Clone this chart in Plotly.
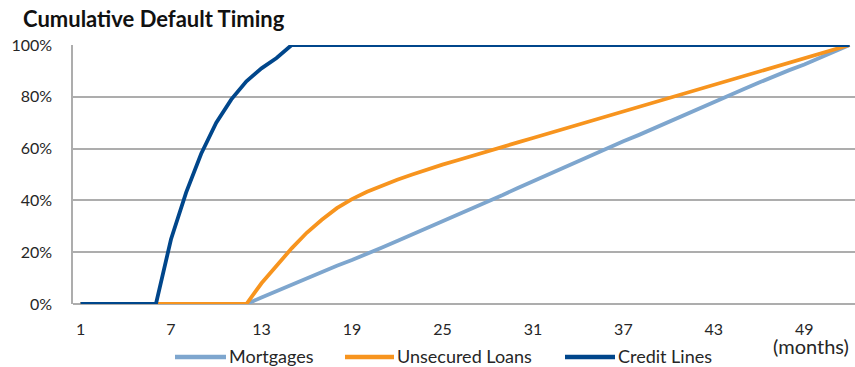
import plotly.graph_objects as go

# Months since origination (x categories)
months = list(range(1, 53))

# Cumulative share of defaults (%) by month
mortgages = [0, 0, 0, 0, 0, 0, 0, 0, 0, 0, 0, 0,
             2.5, 5, 7.5, 10, 12.5, 14.8, 17, 19.3, 21.8, 24.3,
             26.8, 29.3, 31.9, 34.4, 37, 39.6, 42.1, 44.8, 47.4, 50,
             52.7, 55.3, 57.8, 60.3, 62.8, 65.2, 67.8, 70.4, 73, 75.5,
             78, 80.5, 83, 85.5, 88, 90.3, 92.5, 95, 97.5, 100]

unsecured_loans = [0, 0, 0, 0, 0, 0, 0, 0, 0, 0, 0, 0,
                   8, 15, 21.5, 27.5, 32.5, 37, 40.5, 43.3, 45.8, 48,
                   50, 52, 53.8, 55.5, 57.3, 59, 60.7, 62.4, 64.1, 65.8,
                   67.5, 69.2, 70.9, 72.6, 74.4, 76.2, 78, 79.7, 81.4, 83.1,
                   84.8, 86.5, 88.2, 89.9, 91.6, 93.3, 95, 96.6, 98.3, 100]

credit_lines = [0, 0, 0, 0, 0, 0,
                25, 43, 58, 70, 79, 86, 91, 95,
                100, 100, 100, 100, 100, 100, 100, 100, 100, 100,
                100, 100, 100, 100, 100, 100, 100, 100, 100, 100,
                100, 100, 100, 100, 100, 100, 100, 100, 100, 100,
                100, 100, 100, 100, 100, 100, 100, 100]

x_ticks = [1, 7, 13, 19, 25, 31, 37, 43, 49]
y_ticks = [0, 20, 40, 60, 80, 100]
y_tick_labels = ["0%", "20%", "40%", "60%", "80%", "100%"]

series_names = ["Mortgages", "Unsecured Loans", "Credit Lines"]
series_values = [mortgages, unsecured_loans, credit_lines]
series_colors = ["#7EA6CE", "#F7941E", "#00468B"]

FONT = "Lato"
TEXT = "#262626"
GRID = "#ADADAD"

W, H = 855, 367
M_L, M_R, M_T, M_B = 73, 0, 45, 63
PLOT_W = W - M_L - M_R
PLOT_H = H - M_T - M_B


def px_to_paper_x(px):
    return (px - M_L) / PLOT_W


def px_to_paper_y(py):
    return (H - M_B - py) / PLOT_H


fig = go.Figure()
for name, values, color in zip(series_names, series_values, series_colors):
    fig.add_trace(go.Scatter(
        x=months, y=values, name=name, mode="lines",
        line=dict(color=color, width=3.8),
        cliponaxis=False, showlegend=False,
    ))

# Legend row below the axis: a line swatch followed by the series name
legend_swatch_px = [(175, 226), (345, 394), (565, 615)]
swatch_y = px_to_paper_y(357)
label_y = px_to_paper_y(355.5)
shapes = []
annotations = []
for (x0, x1), name, color in zip(legend_swatch_px, series_names, series_colors):
    shapes.append(dict(
        type="line", xref="paper", yref="paper",
        x0=px_to_paper_x(x0), x1=px_to_paper_x(x1),
        y0=swatch_y, y1=swatch_y,
        line=dict(color=color, width=4.5),
    ))
    annotations.append(dict(
        text=name, xref="paper", yref="paper",
        x=px_to_paper_x(x1 + 2), y=label_y,
        xanchor="left", yanchor="middle", showarrow=False,
        borderpad=0,
        font=dict(family=FONT, size=18, color=TEXT),
    ))

annotations.append(dict(
    text="<b>Cumulative Default Timing</b>",
    xref="paper", yref="paper", x=px_to_paper_x(21), y=px_to_paper_y(19),
    xanchor="left", yanchor="middle", showarrow=False,
    font=dict(family=FONT, size=22, color="#111111"),
))
annotations.append(dict(
    text="(months)",
    xref="paper", yref="paper", x=px_to_paper_x(811), y=px_to_paper_y(346),
    xanchor="center", yanchor="middle", showarrow=False,
    borderpad=0,
    font=dict(family=FONT, size=20, color=TEXT),
))

fig.update_layout(
    width=W, height=H,
    margin=dict(l=M_L, r=M_R, t=M_T, b=M_B, autoexpand=False),
    paper_bgcolor="white", plot_bgcolor="white",
    font=dict(family=FONT, size=16, color=TEXT),
    showlegend=False,
    xaxis=dict(
        range=[0.5, 52.36],
        tickvals=x_ticks,
        showgrid=False, zeroline=False,
        showline=False, ticks="",
        ticklabelstandoff=14,
        tickfont=dict(family=FONT, size=16, color=TEXT),
    ),
    yaxis=dict(
        range=[0, 100],
        tickvals=y_ticks, ticktext=y_tick_labels,
        showgrid=True, gridcolor=GRID, gridwidth=1.5,
        zeroline=True, zerolinecolor=GRID, zerolinewidth=1.5,
        showline=True, linecolor=GRID, linewidth=1.5,
        ticks="",
        ticklabelstandoff=16,
        tickfont=dict(family=FONT, size=16, color=TEXT),
    ),
    shapes=shapes,
    annotations=annotations,
)

fig.write_html("out.html")
